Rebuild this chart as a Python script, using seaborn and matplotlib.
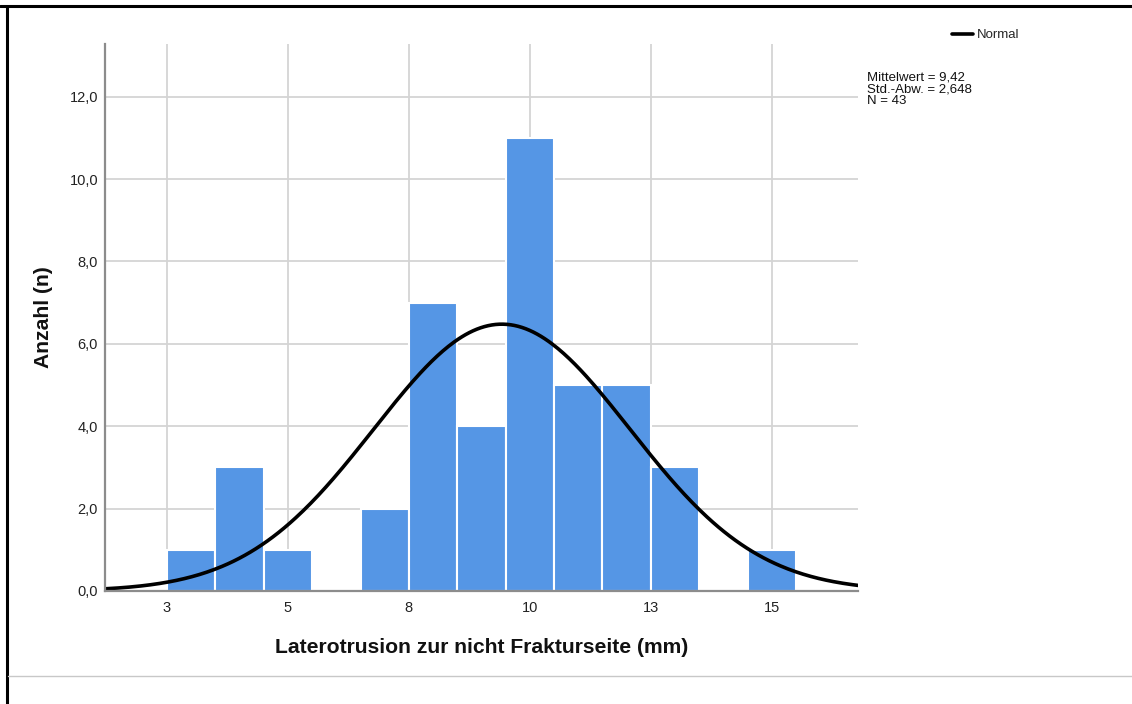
import numpy as np
import pandas as pd
import matplotlib
matplotlib.use("Agg")
import matplotlib.pyplot as plt
from matplotlib.lines import Line2D
import seaborn as sns

# ---- data ----
bin_centers = [3, 4, 5, 6, 7, 8, 9, 10, 11, 12, 13, 14, 15]
counts = [1, 3, 1, 0, 2, 7, 4, 11, 5, 5, 3, 0, 1]
mean_val = 9.42
sd_val = 2.648
n_val = 43
xtick_values = [2.5, 5, 7.5, 10, 12.5, 15]
xtick_labels = ["3", "5", "8", "10", "13", "15"]
ytick_values = [0, 2, 4, 6, 8, 10, 12]
ytick_labels = ["0,0", "2,0", "4,0", "6,0", "8,0", "10,0", "12,0"]
x_label = "Laterotrusion zur nicht Frakturseite (mm)"
y_label = "Anzahl (n)"
stats_text = "Mittelwert = 9,42\nStd.-Abw. = 2,648\nN = 43"

sns.set_theme(style="white")
plt.rcParams["font.family"] = ["Liberation Sans", "DejaVu Sans"]

W, H = 1132, 704
fig = plt.figure(figsize=(W / 100, H / 100), dpi=100)
ax = fig.add_axes([105 / W, 1 - 591 / H, (858 - 105) / W, (591 - 44) / H])

df = pd.DataFrame({"x": bin_centers, "n": counts})
sns.histplot(data=df, x="x", weights="n", binwidth=1, binrange=(2.5, 15.5),
             color="#5596e5", alpha=1.0, edgecolor="white", linewidth=1.5,
             ax=ax, zorder=2)

xmin, xmax = 1.22, 16.78
xs = np.linspace(xmin, xmax, 400)
ys = n_val * 1.0 / (sd_val * np.sqrt(2 * np.pi)) * np.exp(-0.5 * ((xs - mean_val) / sd_val) ** 2)
sns.lineplot(x=xs, y=ys, color="black", linewidth=2.6, ax=ax, zorder=3, label="Normal")

ax.set_xlim(xmin, xmax)
ax.set_ylim(0, 13.28)
ax.set_xticks(xtick_values)
ax.set_xticklabels(xtick_labels)
ax.set_yticks(ytick_values)
ax.set_yticklabels(ytick_labels)
ax.tick_params(axis="both", length=0, labelsize=10.5, colors="#222222")
ax.tick_params(axis="y", pad=5)
ax.tick_params(axis="x", pad=7.5)
ax.grid(True, color="#d4d4d4", linewidth=1.3, zorder=0)
ax.set_axisbelow(True)
for s in ["top", "right"]:
    ax.spines[s].set_visible(False)
for s in ["left", "bottom"]:
    ax.spines[s].set_color("#8c8c8c")
    ax.spines[s].set_linewidth(1.6)
    ax.spines[s].set_zorder(4)
ax.set_xlabel(x_label, fontsize=15.2, fontweight="bold", labelpad=16.5, color="#111111")
ax.set_ylabel(y_label, fontsize=15.2, fontweight="bold", labelpad=11.5, color="#111111")

leg = ax.legend(loc="upper left", bbox_to_anchor=(952 / W, 1 - 29 / H),
                bbox_transform=fig.transFigure, frameon=False, fontsize=9.5,
                handlelength=1.6, handletextpad=0.3, borderpad=0, borderaxespad=0)

fig.text(867 / W, 1 - 71 / H, stats_text, fontsize=9.5, va="top", ha="left",
         linespacing=1.0, color="#111111")

# outer frame
fig.add_artist(Line2D([0, 1], [1 - 5.5 / H] * 2, transform=fig.transFigure, color="black", linewidth=2.2))
fig.add_artist(Line2D([6.5 / W] * 2, [0, 1 - 5.5 / H], transform=fig.transFigure, color="black", linewidth=2.2))
fig.add_artist(Line2D([8 / W, 1], [1 - 675.5 / H] * 2, transform=fig.transFigure, color="#c8c8c8", linewidth=1.0))

fig.savefig("out.png", dpi=100)
